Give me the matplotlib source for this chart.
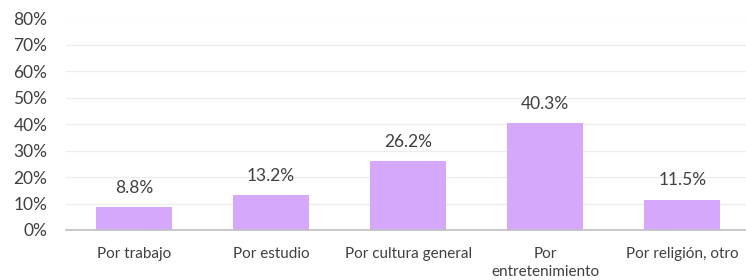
import numpy as np
import matplotlib.pyplot as plt
from matplotlib.ticker import PercentFormatter

plt.rcParams['font.family'] = ['Lato', 'DejaVu Sans']

categories = ["Por trabajo", "Por estudio", "Por cultura general",
              "Por\nentretenimiento", "Por religión, otro"]
values = [8.8, 13.2, 26.2, 40.3, 11.5]

bar_color = "#D5A8FB"
text_color = "#404040"


def main() -> None:
    fig = plt.figure(figsize=(7.46, 2.8), dpi=100)
    ax = fig.add_axes([65.5 / 746, 50 / 280, 680 / 746, 211.5 / 280])

    x = np.arange(len(categories))
    bars = ax.bar(x, values, width=0.555, color=bar_color, zorder=2)

    # etiquetas de valor encima de cada barra
    for rect, v in zip(bars, values):
        ax.annotate(f"{v:.1f}%", (rect.get_x() + rect.get_width() / 2, v),
                    xytext=(0, 8), textcoords="offset points",
                    ha="center", va="bottom", fontsize=12.5, color=text_color)

    ax.set_ylim(0, 80)
    ax.set_xlim(-0.5, 4.46)
    ax.set_yticks(np.arange(0, 81, 10))
    ax.yaxis.set_major_formatter(PercentFormatter(decimals=0))
    ax.set_xticks(x)
    ax.set_xticklabels(categories)

    ax.grid(axis="y", color="#EDEDED", linewidth=0.9, zorder=0)
    for side in ("top", "right", "left"):
        ax.spines[side].set_visible(False)
    ax.spines["bottom"].set_color("#BFBFBF")
    ax.spines["bottom"].set_linewidth(1.2)

    ax.tick_params(axis="y", length=0, pad=13, labelsize=12.5, labelcolor=text_color)
    ax.tick_params(axis="x", length=0, pad=12.5, labelsize=11, labelcolor=text_color)
    for lbl in ax.get_xticklabels():
        lbl.set_linespacing(1.3)

    fig.savefig("out.png", dpi=100)


if __name__ == "__main__":
    main()
